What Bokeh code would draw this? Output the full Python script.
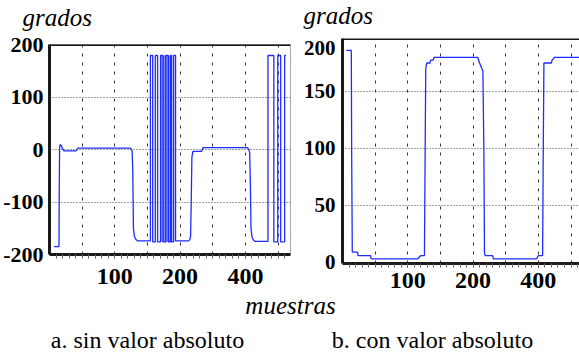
from bokeh.plotting import figure
from bokeh.models import FixedTicker, Label, Range1d, Span
from bokeh.layouts import column, row
from bokeh.embed import file_html
from bokeh.resources import INLINE

# ---------------- data ----------------
# panel a: angle without absolute value (grados vs muestras)
a_x = [7, 14.5, 15, 15.5, 16.5, 18, 20, 22, 41, 43, 122, 125, 126.5, 127.5, 128.5, 130, 132, 135, 154.5,
       154.5, 158, 158, 162, 162, 165.5, 165.5, 170, 170, 174, 174, 178, 178, 182, 182, 185.5,
       185.5, 187, 187, 190, 190, 193, 193,
       213, 215, 216, 217, 218, 219.5, 233, 235, 303, 305, 306.5, 307.5, 308.5, 310, 312, 315, 334.5,
       334.5, 343.5, 343.5, 349.5, 349.5, 354, 354, 360, 360, 362]
a_y = [-185, -185, -60, 5, 10, 8, 2, -2, -2, 3, 3, 2, -3, -40, -150, -165, -171, -174, -174,
       180, 180, -176, -176, 180, 180, -176, -176, 180, 180, -176, -176, 180, 180, -176, -176,
       180, 180, -176, -176, 180, 180, -174,
       -174, -171, -165, -100, -15, -3, -3, 4, 4, 1, -5, -60, -150, -166, -172, -175, -175,
       180, 180, -176, -176, 180, 180, -176, -176, 180, 180]
# dense wrap-around zone of panel a (samples)
a_dense_start = [170]
a_dense_end = [185.5]
a_dense_low = [-176]
a_dense_high = [180]

# panel b: angle with absolute value
b_x = [6, 13.5, 14, 15, 23, 24, 43, 44, 115, 120, 125.5, 126.5, 127.5, 129, 134, 135, 139, 140,
       207, 210, 215, 216.5, 217.5, 218.5, 230, 231, 297, 300, 306.5, 307.5, 308.5, 320, 321, 325, 365]
b_y = [186, 186, 100, 9, 9, 6, 6, 3, 3, 6, 6, 90, 170, 175, 175, 177.5, 177.5, 180,
       180, 175, 168, 100, 8, 6, 6, 3, 3, 6, 6, 100, 175, 175, 177.5, 180, 180]

x_tick_values = [100, 200, 300]
x_tick_labels = ["100", "200", "400"]
x_grid_values = [50, 100, 150, 200, 250, 300, 350]
a_y_tick_values = [-200, -100, 0, 100, 200]
a_y_tick_labels = ["-200", "-100", "0", "100", "200"]
a_y_grid_values = [-100, 0, 100]
b_y_tick_values = [0, 50, 100, 150, 188]
b_y_tick_labels = ["0", "50", "100", "150", "200"]
b_y_grid_values = [50, 100, 150]

LINE = "#1f2bff"
NUM_FONT = "Liberation Sans Narrow"
SERIF = "Liberation Serif"


def style(p, ytv, ytl, ygv, ylab_size, y_standoff, x_standoff, top_value):
    p.background_fill_color = "white"
    p.border_fill_color = "white"
    xa = p.xaxis[0]
    xa.ticker = FixedTicker(ticks=x_tick_values, minor_ticks=list(range(10, 370, 10)))
    xa.major_label_overrides = dict(zip(x_tick_values, x_tick_labels))
    xa.axis_line_width = 3
    xa.axis_line_color = "#1a1a1a"
    xa.major_tick_out = 4
    xa.major_tick_in = 0
    xa.minor_tick_out = 4
    xa.minor_tick_in = 0
    xa.major_tick_line_color = "#444"
    xa.minor_tick_line_color = "#666"
    xa.major_label_text_font = NUM_FONT
    xa.major_label_text_font_style = "bold"
    xa.major_label_text_font_size = "24px"
    xa.major_label_text_color = "black"
    xa.major_label_standoff = x_standoff

    ya = p.yaxis[0]
    ya.ticker = FixedTicker(ticks=ytv, minor_ticks=[])
    ya.major_label_overrides = dict(zip(ytv, ytl))
    ya.axis_line_width = 3
    ya.axis_line_color = "#1a1a1a"
    ya.major_tick_out = 0
    ya.major_tick_in = 0
    ya.minor_tick_out = 0
    ya.minor_tick_in = 0
    ya.major_label_text_font = NUM_FONT
    ya.major_label_text_font_style = "bold"
    ya.major_label_text_font_size = ylab_size
    ya.major_label_text_color = "black"
    ya.major_label_standoff = y_standoff

    g = p.xgrid[0]
    g.ticker = FixedTicker(ticks=x_grid_values)
    g.grid_line_color = "#333"
    g.grid_line_dash = "3 6"
    g.grid_line_width = 1
    h = p.ygrid[0]
    h.ticker = FixedTicker(ticks=ygv)
    h.grid_line_color = "#444"
    h.grid_line_dash = "1 2"
    h.grid_line_width = 1.2

    p.add_layout(Span(location=top_value, dimension="width", line_color="#1a1a1a", line_width=3))


def text_strip(h):
    p = figure(width=579, height=h, x_range=Range1d(0, 579), y_range=Range1d(0, h),
               output_backend="svg", toolbar_location=None, title=None, min_border=0)
    p.axis.visible = False
    p.grid.visible = False
    p.outline_line_color = None
    p.background_fill_alpha = 0
    p.border_fill_alpha = 0
    return p


# header with the y-axis titles
ph = text_strip(32)
ph.add_layout(Label(x=22, y=15.5, text="grados", text_font=SERIF, text_font_style="italic",
                    text_font_size="25px", text_color="black", text_baseline="middle"))
ph.add_layout(Label(x=303, y=17.5, text="grados", text_font=SERIF, text_font_style="italic",
                    text_font_size="25px", text_color="black", text_baseline="middle"))

# panel a
pa = figure(width=300, height=268, x_range=Range1d(0, 369), y_range=Range1d(-200, 201),
            output_backend="svg", toolbar_location=None, title=None,
            min_border_left=43, min_border_right=10, min_border_top=12, min_border_bottom=46)
style(pa, a_y_tick_values, a_y_tick_labels, a_y_grid_values, "22px", 6, 10, 201)
pa.outline_line_color = "#555"
pa.outline_line_dash = "1 1"
pa.quad(left=a_dense_start, right=a_dense_end, bottom=a_dense_low, top=a_dense_high,
        fill_color="#6373ef", fill_alpha=0.8, line_color=None)
pa.line(a_x, a_y, line_color=LINE, line_width=1.3)

# panel b
pb = figure(width=279, height=268, x_range=Range1d(0, 363), y_range=Range1d(-1, 196.5),
            output_backend="svg", toolbar_location=None, title=None,
            min_border_left=36, min_border_right=0, min_border_top=6, min_border_bottom=37)
style(pb, b_y_tick_values, b_y_tick_labels, b_y_grid_values, "21px", 7, 5, 196.5)
pb.outline_line_color = None
pb.line(b_x, b_y, line_color=LINE, line_width=1.3)

# captions (strip pulled up by 8px so the axis title fits inside it; it is transparent)
pc = text_strip(61)
pc.margin = (-8, 0, 0, 0)
pc.add_layout(Label(x=290, y=48, text="muestras", text_font=SERIF, text_font_style="italic",
                    text_font_size="25px", text_align="center", text_baseline="middle",
                    text_color="black"))
pc.add_layout(Label(x=147, y=14, text="a. sin valor absoluto", text_font=SERIF,
                    text_font_size="24px", text_align="center", text_baseline="middle",
                    text_color="black"))
pc.add_layout(Label(x=432, y=14, text="b. con valor absoluto", text_font=SERIF,
                    text_font_size="24px", text_align="center", text_baseline="middle",
                    text_color="black"))

layout = column(ph, row(column(pa), column(pb), spacing=0), pc, spacing=0)
open("out.html", "w").write(file_html(layout, INLINE))
